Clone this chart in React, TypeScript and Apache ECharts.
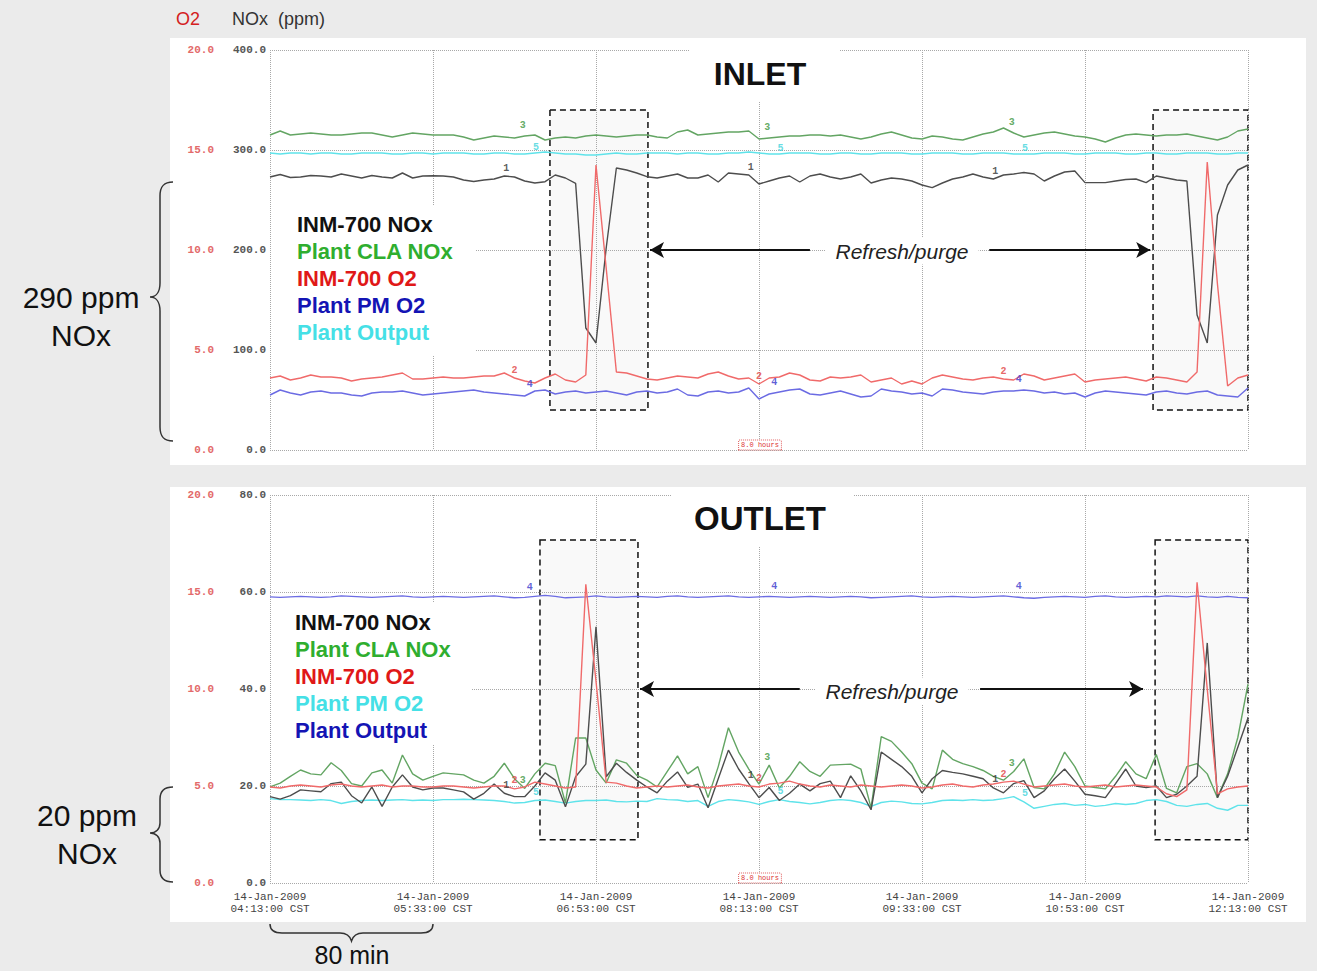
import React, { useEffect, useRef } from 'react';
import * as echarts from 'echarts';

// ---------- time base (minutes after 04:13:00 CST, one sample every 5 min) ----------
const MINUTES = Array.from({ length: 97 }, (_, i) => i * 5);
const DATE_LABEL = '14-Jan-2009';
const TICK_TIMES = ['04:13:00 CST', '05:33:00 CST', '06:53:00 CST', '08:13:00 CST', '09:33:00 CST', '10:53:00 CST', '12:13:00 CST'];

// ---------- INLET ----------
const INLET_INM_NOX = [
  273, 275.5, 272.5, 273, 274.5, 274, 273, 276, 274, 272,
  274.5, 273, 272, 277, 272, 274, 274.3, 274, 273, 270,
  268.5, 270, 271, 274, 273, 269, 267, 268.3, 275, 272,
  266.7, 122, 107, 202, 282, 280, 277, 273.3, 272, 274,
  276, 272, 272, 275, 268, 277, 276, 275, 266, 269,
  272, 274, 268, 274, 276, 273, 271, 273, 276, 267,
  270, 272, 271, 269, 265, 262.4, 267, 271, 273, 276,
  273, 271, 275, 276, 277.5, 276, 269, 274, 278, 279,
  267.4, 267.4, 267.4, 269, 270.5, 271, 267.4, 274, 272, 270,
  269, 135, 107, 235, 265, 280, 285,
];
const INLET_CLA_NOX = [
  315, 319, 315, 316, 317, 316, 315, 315, 316, 317,
  317, 315, 313, 315, 317, 316, 315, 315, 315, 313,
  310, 312, 314, 313, 312, 314, 315, 310, 312, 313,
  312, 314, 315, 314, 313, 314, 315, 315, 313, 312,
  318, 320, 315, 316, 317, 318, 318, 319, 311, 312,
  313, 314, 314, 315, 315, 314, 315, 313, 311, 313,
  316, 318, 315, 312, 311, 314, 313, 311, 310, 313,
  316, 318, 322, 317, 313, 315, 317, 318, 316, 314,
  313, 311, 308, 312, 315, 316, 315, 314, 315, 315,
  316, 314, 312, 310, 313, 319, 321,
];
const INLET_INM_O2 = [
  3.6, 3.7, 3.5, 3.6, 3.75, 3.65, 3.65, 3.6, 3.45, 3.55,
  3.6, 3.65, 3.75, 3.85, 3.55, 3.55, 3.6, 3.65, 3.6, 3.6,
  3.65, 3.7, 3.7, 3.85, 3.6, 3.45, 3.35, 3.6, 3.8, 3.5,
  3.4, 3.75, 14.25, 9.1, 3.9, 3.85, 3.7, 3.55, 3.5, 3.6,
  3.7, 3.65, 3.6, 3.8, 3.9, 3.7, 3.55, 3.6, 3.3, 3.6,
  3.65, 3.85, 3.75, 3.5, 3.45, 3.65, 3.6, 3.65, 3.75, 3.4,
  3.5, 3.6, 3.3, 3.45, 3.3, 3.6, 3.75, 3.65, 3.55, 3.5,
  3.6, 3.65, 3.55, 3.5, 3.8, 3.7, 3.5, 3.6, 3.7, 3.8,
  3.4, 3.5, 3.55, 3.6, 3.65, 3.55, 3.45, 3.65, 3.6, 3.5,
  3.4, 3.9, 14.4, 8.3, 3.2, 3.6, 3.75,
];
const INLET_PM_O2 = [
  2.75, 3.0, 2.85, 2.75, 2.9, 2.95, 2.85, 2.85, 2.75, 2.7,
  2.85, 2.9, 2.9, 2.95, 2.85, 2.75, 2.8, 2.85, 2.9, 2.95,
  3.0, 2.9, 2.85, 2.8, 2.75, 2.7, 2.95, 3.0, 2.8, 2.9,
  2.95, 2.85, 2.9, 2.95, 2.85, 2.75, 2.9, 2.95, 2.85, 2.9,
  3.05, 2.75, 2.7, 2.9, 2.95, 2.85, 2.9, 3.1, 2.55, 2.8,
  2.9, 3.0, 3.05, 2.8, 2.75, 2.85, 2.95, 2.8, 2.65, 2.7,
  3.05, 2.95, 2.9, 2.8, 2.85, 2.7, 3.05, 3.0, 2.9, 2.85,
  2.8, 2.9, 2.95, 2.95, 3.0, 2.95, 2.85, 2.9, 2.8, 2.85,
  2.65, 2.85, 2.95, 2.9, 2.85, 2.8, 2.75, 2.9, 2.95, 2.85,
  2.8, 2.9, 2.95, 2.75, 2.7, 2.65, 3.1,
];
const INLET_OUTPUT = [
  297, 296, 297, 297, 296, 297, 297, 296, 296, 297,
  297, 297, 296, 296, 297, 297, 296, 297, 297, 297,
  296, 296, 297, 297, 296, 296, 297, 298, 297, 296,
  296, 295, 295, 296, 297, 296, 296, 297, 297, 297,
  296, 297, 297, 296, 296, 297, 297, 298, 297, 296,
  296, 297, 297, 297, 296, 296, 297, 297, 296, 296,
  297, 297, 297, 296, 296, 297, 297, 297, 296, 296,
  297, 297, 297, 296, 296, 296, 297, 297, 297, 296,
  296, 297, 297, 297, 296, 296, 297, 297, 296, 296,
  297, 297, 297, 296, 296, 297, 297,
];

// ---------- OUTLET ----------
const OUTLET_INM_NOX = [
  17.8, 17.3, 18, 19.2, 19, 18.8, 20.5, 20.8, 18, 16.5,
  19.8, 15.8, 19.8, 22.3, 19.8, 19.2, 19.6, 19.6, 19.2, 18.8,
  17.3, 18.5, 20.4, 18.5, 17.8, 17.8, 20, 22.7, 21.2, 15.7,
  21.9, 24.5, 52.8, 21.9, 24.7, 22.8, 21.2, 19.8, 18.6, 21,
  22.9, 19.7, 20.4, 15.5, 21.5, 27.4, 23.5, 20.5, 17.6, 19.7,
  17, 18.5, 20.4, 19, 20.5, 21, 17.6, 22.1, 19, 15.1,
  27, 25.5, 24, 22, 18.6, 21.5, 23.2, 22.8, 22.5, 22,
  21.5, 19.6, 18.6, 20.5, 21.1, 17.6, 19, 21.5, 23.5, 21,
  18.3, 18, 17.6, 20.5, 23.5, 20, 19.7, 20, 17.6, 18.3,
  20, 22, 49.5, 17.6, 22, 28, 34,
];
const OUTLET_CLA_NOX = [
  19.8, 20.6, 22, 23.3, 22.5, 22.3, 24.8, 23.2, 20.5, 20,
  22.7, 23.3, 20.6, 26.4, 22.5, 21.2, 22, 22.7, 22.5, 22.3,
  21.2, 20.6, 22, 24.7, 21.5, 19.5, 22.5, 24.7, 24.2, 16.5,
  29.9, 29.9, 23.3, 20.6, 25.4, 24.7, 22.2, 21.2, 19.8, 23,
  26.2, 22.5, 24, 17.6, 24, 32, 27, 23.5, 20.4, 24.3,
  19.6, 22, 25, 23, 22, 24.3, 24.4, 24.5, 23.5, 15.5,
  30.2, 29.2, 27, 24.6, 20.6, 19.4, 27.4, 25.5, 24.6, 24,
  23.2, 22, 21.2, 23, 25.6, 19.7, 19.4, 22.5, 27, 24,
  20, 19.7, 19.4, 22, 25, 22.5, 21.5, 26.5, 19.5, 18.6,
  24, 24.6, 22.5, 17.6, 22.5, 30, 41,
];
const OUTLET_INM_O2 = [
  4.95, 4.9, 5.0, 5.05, 5.0, 4.95, 5.05, 5.1, 5.0, 4.95,
  5.0, 5.05, 4.95, 5.0, 5.0, 4.95, 4.95, 5.0, 5.0, 4.95,
  4.9, 4.95, 5.0, 5.0, 4.85, 4.95, 5.2, 5.1, 5.0, 4.9,
  4.95, 15.4, 10.4, 5.2, 5.15, 5.0, 4.9, 4.95, 5.0, 4.95,
  5.0, 5.05, 4.95, 4.9, 5.0, 5.05, 5.1, 5.0, 4.95, 5.1,
  5.15, 5.25, 5.1, 5.0, 4.95, 5.05, 5.0, 4.95, 5.05, 5.0,
  4.95, 5.0, 5.05, 5.0, 4.9, 4.95, 5.05, 5.1, 5.0, 4.95,
  5.05, 5.1, 5.2, 5.25, 5.1, 4.95, 5.0, 5.05, 5.1, 5.0,
  4.95, 5.0, 5.05, 4.95, 5.0, 5.05, 5.0, 4.95, 4.6, 4.45,
  4.8, 15.5, 10.0, 4.6, 4.85, 4.95, 5.0,
];
const OUTLET_PM_O2 = [
  4.35, 4.3, 4.3, 4.28, 4.25, 4.3, 4.25, 4.1, 4.2, 4.25,
  4.28, 4.25, 4.28, 4.3, 4.25, 4.28, 4.25, 4.3, 4.3, 4.32,
  4.3, 4.28, 4.25, 4.2, 4.12, 4.15, 4.25, 4.28, 4.2, 4.12,
  4.2, 4.25, 4.25, 4.28, 4.2, 4.18, 4.22, 4.2, 4.35, 4.3,
  4.28, 4.2, 4.25, 3.95, 4.2, 4.3, 4.25, 4.18, 4.05, 4.2,
  4.3, 4.2, 4.15, 4.08, 4.15, 4.25, 4.3, 4.25, 4.15, 3.95,
  4.15, 4.22, 4.18, 4.1, 4.08, 4.15, 4.25, 4.28, 4.25, 4.3,
  4.25, 4.28, 4.35, 4.45, 4.18, 3.85, 3.95, 4.05, 4.1, 4.0,
  4.05, 3.95, 4.0, 4.1, 4.05, 4.1, 4.25, 4.3, 4.2, 4.0,
  3.95, 4.05, 4.1, 3.85, 3.75, 4.0, 4.0,
];
const OUTLET_OUTPUT = [
  59.0, 58.9, 59.0, 59.1, 59.0, 58.9, 59.0, 59.2, 59.1, 59.0,
  58.9, 59.0, 59.1, 59.2, 59.0, 58.9, 59.0, 59.1, 59.0, 58.9,
  59.0, 59.1, 59.2, 59.0, 58.8, 58.9, 59.1, 59.3, 59.1, 58.8,
  58.9, 59.0, 59.2, 59.0, 58.9, 59.0, 59.1, 59.0, 58.9, 59.1,
  59.2, 59.0, 58.9, 59.0, 59.1, 59.2, 59.0, 58.9, 59.0, 59.1,
  59.0, 58.9, 59.0, 59.1, 59.0, 58.9, 59.0, 59.1, 59.0, 58.8,
  58.9, 59.0, 59.1, 59.2, 59.0, 58.9, 59.0, 59.1, 59.0, 58.9,
  59.0, 59.1, 59.2, 59.0, 58.8, 58.7, 58.9, 59.0, 59.1, 59.0,
  58.9, 59.1, 59.2, 59.0, 58.9, 59.0, 59.1, 59.0, 59.2, 59.1,
  59.0, 59.2, 59.0, 58.9, 59.1, 58.9, 58.8,
];

// refresh/purge windows (minutes) and NOx extent of the highlight boxes
const INLET_PURGE = [[137.4, 185.5], [433.4, 480]];
const INLET_PURGE_NOX = [340, 40];
const OUTLET_PURGE = [[132.5, 180.6], [434.4, 480]];
const OUTLET_PURGE_NOX = [70.7, 8.9];
// refresh/purge arrows: [from, to] in minutes, at a NOx level
const INLET_ARROWS = [[265, 186.5], [353, 432]];
const INLET_ARROW_LEVEL = 200;
const OUTLET_ARROWS = [[260, 181.6], [348.5, 428.5]];
const OUTLET_ARROW_LEVEL = 40;

// trace number tags (sample indices)
const TAG_IDX = { n1: [23, 47, 71], n2: [24, 48, 72], n3: [25, 49, 73], n4: [25, 49, 73], n5: [26, 50, 74] };

const INLET_LEGEND = [
  { text: 'INM-700 NOx', color: '#111111' },
  { text: 'Plant CLA NOx', color: '#2fae2f' },
  { text: 'INM-700 O2', color: '#e01818' },
  { text: 'Plant PM O2', color: '#1414b4' },
  { text: 'Plant Output', color: '#45e0e6' },
];
const OUTLET_LEGEND = [
  { text: 'INM-700 NOx', color: '#111111' },
  { text: 'Plant CLA NOx', color: '#2fae2f' },
  { text: 'INM-700 O2', color: '#e01818' },
  { text: 'Plant PM O2', color: '#45e0e6' },
  { text: 'Plant Output', color: '#1414b4' },
];

const MONO = "'Liberation Mono', 'DejaVu Sans Mono', monospace";
const SANS = "'Liberation Sans', Arial, sans-serif";

const C_BLACK = '#4d4d4d';
const C_GREEN = '#63a563';
const C_RED = '#f06a6a';
const C_BLUE = '#6b6be3';
const C_CYAN = '#5fe3ea';

let shapesRegistered = false;
function registerShapes() {
  if (shapesRegistered) return;
  shapesRegistered = true;
  const g: any = (echarts as any).graphic;
  g.registerShape('braceInlet', g.extendPath(
    'M23 0 C14 0 10 4 10 14 L10 101 C10 110 6 115 0 115 C6 115 10 120 10 129 L10 245 C10 255 14 259 23 259', {}));
  g.registerShape('braceOutlet', g.extendPath(
    'M23 0 C14 0 10 4 10 12 L10 36 C10 42 6 46 0 46 C6 46 10 50 10 56 L10 83 C10 91 14 95 23 95', {}));
  g.registerShape('braceBottom', g.extendPath(
    'M0 0 C0 6 4 9 12 9 L70 9 C76 9 80 12 81.5 17 C83 12 87 9 93 9 L151 9 C159 9 163 6 163 0', {}));
}

function lineSeries(xIdx: number, yIdx: number, values: number[], color: string, extra: any = {}) {
  return {
    type: 'line', xAxisIndex: xIdx, yAxisIndex: yIdx,
    data: values.map((v, i) => [MINUTES[i], v]),
    showSymbol: false, symbol: 'none', silent: true, z: 5,
    lineStyle: { color, width: 1.4 }, itemStyle: { color },
    ...extra,
  };
}
function tagSeries(xIdx: number, yIdx: number, values: number[], idxs: number[], text: string, color: string, offset: number[]) {
  return {
    type: 'scatter', xAxisIndex: xIdx, yAxisIndex: yIdx, silent: true, z: 6,
    symbolSize: 0,
    data: idxs.map((i) => [MINUTES[i], values[i]]),
    label: { show: true, formatter: text, position: 'top', distance: 3, offset, color, fontSize: 10, fontFamily: MONO, fontWeight: 'bold' },
  };
}
function purgeMarks(windows: number[][], noxRange: number[], arrows: number[][], level: number) {
  return {
    markArea: {
      silent: true,
      itemStyle: { color: 'rgba(0,0,0,0.025)', borderColor: '#111', borderWidth: 1.5, borderType: [6, 4] },
      data: windows.map((w) => [{ coord: [w[0], noxRange[0]] }, { coord: [w[1], noxRange[1]] }]),
    },
    markLine: {
      silent: true, symbol: ['none', 'arrow'], symbolSize: [12, 14],
      lineStyle: { color: '#111', width: 2, type: 'solid' },
      label: { show: false },
      data: arrows.map((a) => [{ coord: [a[0], level] }, { coord: [a[1], level] }]),
    },
  };
}

function xAxis(gridIndex: number, showLabels: boolean) {
  return {
    gridIndex, type: 'value', min: 0, max: 480, interval: 80, z: 2,
    axisLine: { show: false }, axisTick: { show: false },
    splitLine: { show: true, lineStyle: { type: 'dotted', color: '#a8a8a8', width: 1 } },
    axisLabel: {
      show: showLabels, margin: 8, color: '#444', fontFamily: MONO, fontSize: 11, lineHeight: 12,
      formatter: (v: number) => DATE_LABEL + '\n' + TICK_TIMES[Math.round(v / 80)],
    },
  };
}
function yAxis(gridIndex: number, max: number, interval: number, o2: boolean) {
  return {
    gridIndex, type: 'value', min: 0, max, interval, position: 'left', offset: o2 ? 52 : 0, z: 2,
    axisLine: { show: false }, axisTick: { show: false },
    splitLine: { show: !o2, lineStyle: { type: 'dotted', color: '#a8a8a8', width: 1 } },
    axisLabel: {
      margin: 4, color: o2 ? '#e36a6a' : '#555', fontFamily: MONO, fontSize: 11, fontWeight: 'bold',
      formatter: (v: number) => v.toFixed(1),
    },
  };
}

function legendTexts(items: { text: string; color: string }[], x: number, y0: number) {
  return items.map((it, k) => ({
    type: 'text', x, y: y0 + k * 27.2, z: 20,
    style: { text: it.text, fill: it.color, fontSize: 22, fontWeight: 'bold', fontFamily: SANS, align: 'left', verticalAlign: 'middle' },
  }));
}

function buildOption() {
  const graphic: any[] = [
    // white panels
    { type: 'rect', z: 0, shape: { x: 170, y: 38, width: 1136, height: 427 }, style: { fill: '#ffffff' } },
    { type: 'rect', z: 0, shape: { x: 170, y: 487, width: 1136, height: 435 }, style: { fill: '#ffffff' } },
    // masks behind annotation texts
    { type: 'rect', z: 3, shape: { x: 272, y: 205, width: 203, height: 150 }, style: { fill: '#ffffff' } },
    { type: 'rect', z: 3, shape: { x: 272, y: 603, width: 200, height: 142 }, style: { fill: '#ffffff' } },
    { type: 'rect', z: 3, shape: { x: 690, y: 44, width: 150, height: 58 }, style: { fill: '#ffffff' } },
    { type: 'rect', z: 3, shape: { x: 672, y: 490, width: 182, height: 56 }, style: { fill: '#ffffff' } },
    // header
    { type: 'text', x: 176, y: 19, z: 20, style: { text: 'O2', fill: '#d42020', fontSize: 18, fontFamily: SANS, verticalAlign: 'middle' } },
    { type: 'text', x: 232, y: 19, z: 20, style: { text: 'NOx  (ppm)', fill: '#333', fontSize: 18, fontFamily: SANS, verticalAlign: 'middle' } },
    // titles
    { type: 'text', x: 760, y: 74, z: 20, style: { text: 'INLET', fill: '#111', fontSize: 32, fontWeight: 'bold', fontFamily: SANS, align: 'center', verticalAlign: 'middle' } },
    { type: 'text', x: 760, y: 518, z: 20, style: { text: 'OUTLET', fill: '#111', fontSize: 33, fontWeight: 'bold', fontFamily: SANS, align: 'center', verticalAlign: 'middle' } },
    // refresh/purge
    { type: 'text', x: 902, y: 251, z: 20, style: { text: 'Refresh/purge', fill: '#222', fontSize: 21, fontStyle: 'italic', fontFamily: SANS, align: 'center', verticalAlign: 'middle', backgroundColor: '#fff', padding: [3, 10] } },
    { type: 'text', x: 892, y: 691, z: 20, style: { text: 'Refresh/purge', fill: '#222', fontSize: 21, fontStyle: 'italic', fontFamily: SANS, align: 'center', verticalAlign: 'middle', backgroundColor: '#fff', padding: [3, 10] } },
    // 8.0 hours
    { type: 'text', x: 760, y: 445, z: 20, style: { text: '8.0 hours', fill: '#d33', fontSize: 7, fontFamily: MONO, align: 'center', verticalAlign: 'middle', backgroundColor: '#fff', borderColor: '#e06060', borderWidth: 1, borderDash: [1, 1], padding: [1, 2] } },
    { type: 'text', x: 760, y: 878, z: 20, style: { text: '8.0 hours', fill: '#d33', fontSize: 7, fontFamily: MONO, align: 'center', verticalAlign: 'middle', backgroundColor: '#fff', borderColor: '#e06060', borderWidth: 1, borderDash: [1, 1], padding: [1, 2] } },
    // left annotations
    { type: 'text', x: 81, y: 297, z: 20, style: { text: '290 ppm', fill: '#111', fontSize: 30, fontFamily: SANS, align: 'center', verticalAlign: 'middle' } },
    { type: 'text', x: 81, y: 335, z: 20, style: { text: 'NOx', fill: '#111', fontSize: 30, fontFamily: SANS, align: 'center', verticalAlign: 'middle' } },
    { type: 'text', x: 87, y: 815, z: 20, style: { text: '20 ppm', fill: '#111', fontSize: 30, fontFamily: SANS, align: 'center', verticalAlign: 'middle' } },
    { type: 'text', x: 87, y: 853, z: 20, style: { text: 'NOx', fill: '#111', fontSize: 30, fontFamily: SANS, align: 'center', verticalAlign: 'middle' } },
    { type: 'braceInlet', x: 150, y: 182, z: 20, style: { fill: 'none', stroke: '#333', lineWidth: 1.5 } },
    { type: 'braceOutlet', x: 150, y: 787, z: 20, style: { fill: 'none', stroke: '#333', lineWidth: 1.5 } },
    { type: 'braceBottom', x: 270, y: 924, z: 20, style: { fill: 'none', stroke: '#333', lineWidth: 1.5 } },
    { type: 'text', x: 352, y: 955, z: 20, style: { text: '80 min', fill: '#111', fontSize: 25, fontFamily: SANS, align: 'center', verticalAlign: 'middle' } },
    ...legendTexts(INLET_LEGEND, 297, 224),
    ...legendTexts(OUTLET_LEGEND, 295, 622),
  ];

  const series: any[] = [
    // inlet
    lineSeries(0, 0, INLET_OUTPUT, C_CYAN),
    lineSeries(0, 1, INLET_PM_O2, C_BLUE),
    lineSeries(0, 0, INLET_CLA_NOX, C_GREEN),
    lineSeries(0, 0, INLET_INM_NOX, C_BLACK, purgeMarks(INLET_PURGE, INLET_PURGE_NOX, INLET_ARROWS, INLET_ARROW_LEVEL)),
    lineSeries(0, 1, INLET_INM_O2, C_RED),
    tagSeries(0, 0, INLET_INM_NOX, TAG_IDX.n1, '1', '#333', [2, 0]),
    tagSeries(0, 1, INLET_INM_O2, TAG_IDX.n2, '2', '#e04040', [0, 0]),
    tagSeries(0, 0, INLET_CLA_NOX, TAG_IDX.n3, '3', '#3f973f', [-2, -3]),
    tagSeries(0, 1, INLET_PM_O2, TAG_IDX.n4, '4', '#3535cc', [5, -4]),
    tagSeries(0, 0, INLET_OUTPUT, TAG_IDX.n5, '5', '#3fd4dc', [1, 2]),
    // outlet
    lineSeries(1, 3, OUTLET_PM_O2, C_CYAN),
    lineSeries(1, 2, OUTLET_OUTPUT, C_BLUE),
    lineSeries(1, 2, OUTLET_CLA_NOX, C_GREEN),
    lineSeries(1, 2, OUTLET_INM_NOX, C_BLACK, purgeMarks(OUTLET_PURGE, OUTLET_PURGE_NOX, OUTLET_ARROWS, OUTLET_ARROW_LEVEL)),
    lineSeries(1, 3, OUTLET_INM_O2, C_RED),
    tagSeries(1, 2, OUTLET_INM_NOX, TAG_IDX.n1, '1', '#333', [2, 0]),
    tagSeries(1, 3, OUTLET_INM_O2, TAG_IDX.n2, '2', '#e04040', [0, 0]),
    tagSeries(1, 2, OUTLET_CLA_NOX, TAG_IDX.n3, '3', '#3f973f', [-2, 0]),
    tagSeries(1, 2, OUTLET_OUTPUT, TAG_IDX.n4, '4', '#3535cc', [5, -2]),
    tagSeries(1, 3, OUTLET_PM_O2, TAG_IDX.n5, '5', '#3fd4dc', [1, 0]),
  ];

  return {
    animation: false,
    backgroundColor: '#ebebeb',
    textStyle: { fontFamily: SANS },
    grid: [
      { left: 270, top: 50, width: 978, height: 400, containLabel: false },
      { left: 270, top: 495, width: 978, height: 388, containLabel: false },
    ],
    xAxis: [xAxis(0, false), xAxis(1, true)],
    yAxis: [yAxis(0, 400, 100, false), yAxis(0, 20, 5, true), yAxis(1, 80, 20, false), yAxis(1, 20, 5, true)],
    graphic,
    series,
  };
}

export default function App() {
  const ref = useRef<HTMLDivElement>(null);
  useEffect(() => {
    if (!ref.current) return;
    registerShapes();
    const chart = echarts.init(ref.current, null, { renderer: 'svg' });
    chart.setOption(buildOption() as any);
    return () => chart.dispose();
  }, []);
  return <div ref={ref} style={{ position: 'absolute', left: 0, top: 0, width: 1317, height: 971 }} />;
}
